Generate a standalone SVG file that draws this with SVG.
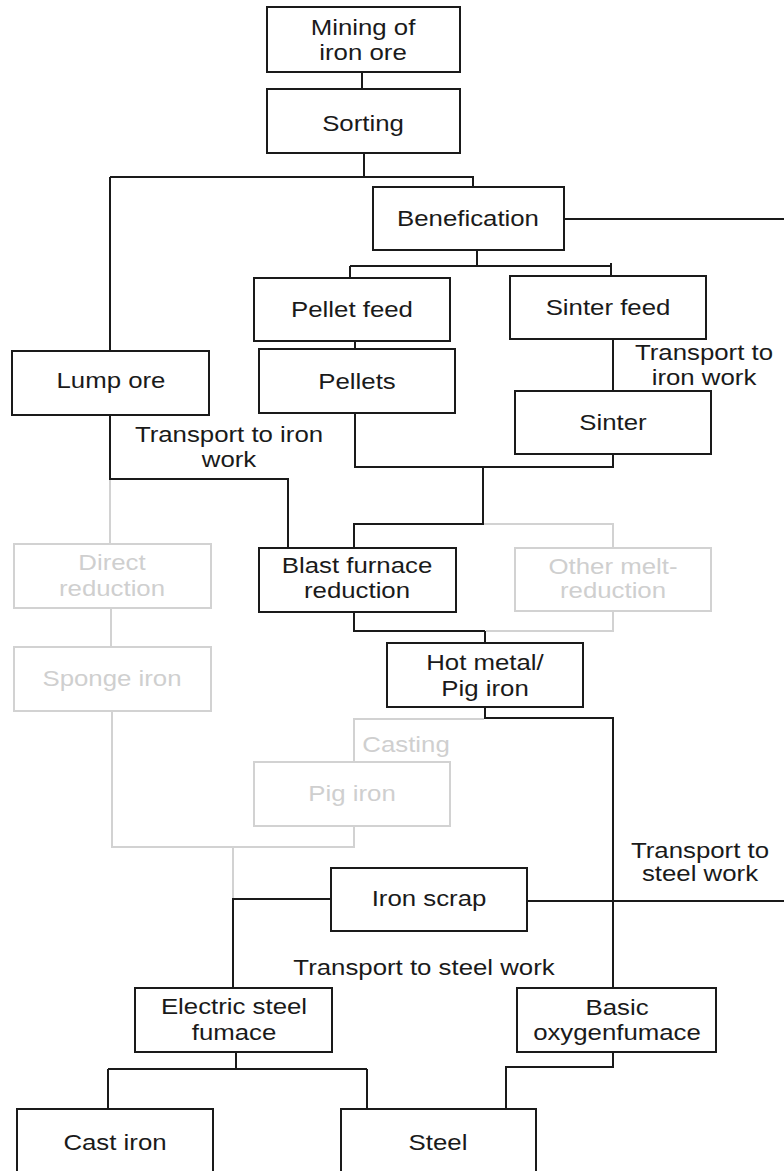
<svg xmlns="http://www.w3.org/2000/svg" width="784" height="1171" viewBox="0 0 784 1171">
  <style>
    .box { fill: #ffffff; stroke: #1a1a1a; stroke-width: 2; }
    .box.dim { stroke: #d2d2d2; }
    .ln { fill: none; stroke: #1a1a1a; stroke-width: 2; }
    .ln.dim { stroke: #d2d2d2; }
    .t { font-family: "Liberation Sans", Arial, sans-serif; font-size: 21.5px; fill: #1a1a1a; text-anchor: middle; }
    .t.dim { fill: #cfcfcf; }
  </style>
  <rect width="784" height="1171" fill="#ffffff"/>

  <!-- connectors -->
  <g id="connectors">
    <!-- active (black) routes -->
    <path class="ln" d="M362 72 V89"/>
    <path class="ln" d="M364 153 V177 M110 177 H473 V187"/>
    <path class="ln" d="M564 219 H784"/>
    <path class="ln" d="M477 250 V266 M350 266 H611 V263 M350 266 V278 M611 266 V276"/>
    <path class="ln" d="M355 341 V349"/>
    <path class="ln" d="M110 177 V351"/>
    <path class="ln" d="M110 415 V479 H288 V548"/>
    <path class="ln" d="M613 339 V391"/>
    <path class="ln" d="M355 413 V467 H613 V454"/>
    <path class="ln" d="M483 467 V524 H354 V548"/>
    <path class="ln" d="M354 612 V631 H485 M485 631 V643"/>
    <path class="ln" d="M485 707 V718 H613 V988"/>
    <path class="ln" d="M331 899 H233 V988"/>
    <path class="ln" d="M527 901 H784"/>
    <path class="ln" d="M236 1052 V1069 M108 1069 H367 M108 1069 V1109 M367 1069 V1109"/>
    <path class="ln" d="M613 1052 V1067 H506 V1109"/>
    <!-- inactive (grey) routes -->
    <path class="ln dim" d="M110 480 V544"/>
    <path class="ln dim" d="M484 524 H613 V548"/>
    <path class="ln dim" d="M613 611 V631 H486"/>
    <path class="ln dim" d="M111 608 V647"/>
    <path class="ln dim" d="M484 719 H354 V762"/>
    <path class="ln dim" d="M112 711 V847 H354 V826"/>
    <path class="ln dim" d="M233 847 V898"/>
  </g>

  <!-- edge labels -->
  <g id="labels">
    <text class="t" transform="translate(229,442) scale(1.2,1)">Transport to iron</text>
    <text class="t" transform="translate(229,467) scale(1.2,1)">work</text>
    <text class="t" transform="translate(704,360) scale(1.2,1)">Transport to</text>
    <text class="t" transform="translate(704,385) scale(1.2,1)">iron work</text>
    <text class="t dim" transform="translate(406,752) scale(1.2,1)">Casting</text>
    <text class="t" transform="translate(700,858) scale(1.2,1)">Transport to</text>
    <text class="t" transform="translate(700,881) scale(1.2,1)">steel work</text>
    <text class="t" transform="translate(424,975) scale(1.2,1)">Transport to steel work</text>
  </g>

  <!-- nodes -->
  <g id="mining">
    <rect class="box" x="267" y="7" width="193" height="65"/>
    <text class="t" transform="translate(363,35) scale(1.2,1)">Mining of</text>
    <text class="t" transform="translate(363,60) scale(1.2,1)">iron ore</text>
  </g>
  <g id="sorting">
    <rect class="box" x="267" y="89" width="193" height="64"/>
    <text class="t" transform="translate(363,131) scale(1.2,1)">Sorting</text>
  </g>
  <g id="benefication">
    <rect class="box" x="373" y="187" width="191" height="63"/>
    <text class="t" transform="translate(468,226) scale(1.2,1)">Benefication</text>
  </g>
  <g id="pellet-feed">
    <rect class="box" x="254" y="278" width="196" height="63"/>
    <text class="t" transform="translate(352,317) scale(1.2,1)">Pellet feed</text>
  </g>
  <g id="sinter-feed">
    <rect class="box" x="510" y="276" width="196" height="63"/>
    <text class="t" transform="translate(608,315) scale(1.2,1)">Sinter feed</text>
  </g>
  <g id="lump-ore">
    <rect class="box" x="12" y="351" width="197" height="64"/>
    <text class="t" transform="translate(111,388) scale(1.2,1)">Lump ore</text>
  </g>
  <g id="pellets">
    <rect class="box" x="259" y="349" width="196" height="64"/>
    <text class="t" transform="translate(357,389) scale(1.2,1)">Pellets</text>
  </g>
  <g id="sinter">
    <rect class="box" x="515" y="391" width="196" height="63"/>
    <text class="t" transform="translate(613,430) scale(1.2,1)">Sinter</text>
  </g>
  <g id="direct-reduction">
    <rect class="box dim" x="14" y="544" width="197" height="64"/>
    <text class="t dim" transform="translate(112,570) scale(1.2,1)">Direct</text>
    <text class="t dim" transform="translate(112,596) scale(1.2,1)">reduction</text>
  </g>
  <g id="blast-furnace">
    <rect class="box" x="259" y="548" width="197" height="64"/>
    <text class="t" transform="translate(357,573) scale(1.2,1)">Blast furnace</text>
    <text class="t" transform="translate(357,598) scale(1.2,1)">reduction</text>
  </g>
  <g id="other-melt-reduction">
    <rect class="box dim" x="515" y="548" width="196" height="63"/>
    <text class="t dim" transform="translate(613,574) scale(1.2,1)">Other melt-</text>
    <text class="t dim" transform="translate(613,598) scale(1.2,1)">reduction</text>
  </g>
  <g id="sponge-iron">
    <rect class="box dim" x="14" y="647" width="197" height="64"/>
    <text class="t dim" transform="translate(112,686) scale(1.2,1)">Sponge iron</text>
  </g>
  <g id="hot-metal">
    <rect class="box" x="387" y="643" width="196" height="64"/>
    <text class="t" transform="translate(485,670) scale(1.2,1)">Hot metal/</text>
    <text class="t" transform="translate(485,696) scale(1.2,1)">Pig iron</text>
  </g>
  <g id="pig-iron">
    <rect class="box dim" x="254" y="762" width="196" height="64"/>
    <text class="t dim" transform="translate(352,801) scale(1.2,1)">Pig iron</text>
  </g>
  <g id="iron-scrap">
    <rect class="box" x="331" y="868" width="196" height="63"/>
    <text class="t" transform="translate(429,906) scale(1.2,1)">Iron scrap</text>
  </g>
  <g id="electric-steel-furnace">
    <rect class="box" x="135" y="988" width="197" height="64"/>
    <text class="t" transform="translate(234,1014) scale(1.2,1)">Electric steel</text>
    <text class="t" transform="translate(234,1040) scale(1.2,1)">fumace</text>
  </g>
  <g id="basic-oxygen-furnace">
    <rect class="box" x="517" y="988" width="199" height="64"/>
    <text class="t" transform="translate(617,1015) scale(1.2,1)">Basic</text>
    <text class="t" transform="translate(617,1040) scale(1.2,1)">oxygenfumace</text>
  </g>
  <g id="cast-iron">
    <rect class="box" x="17" y="1109" width="196" height="80"/>
    <text class="t" transform="translate(115,1150) scale(1.2,1)">Cast iron</text>
  </g>
  <g id="steel">
    <rect class="box" x="341" y="1109" width="195" height="80"/>
    <text class="t" transform="translate(438,1150) scale(1.2,1)">Steel</text>
  </g>
</svg>
